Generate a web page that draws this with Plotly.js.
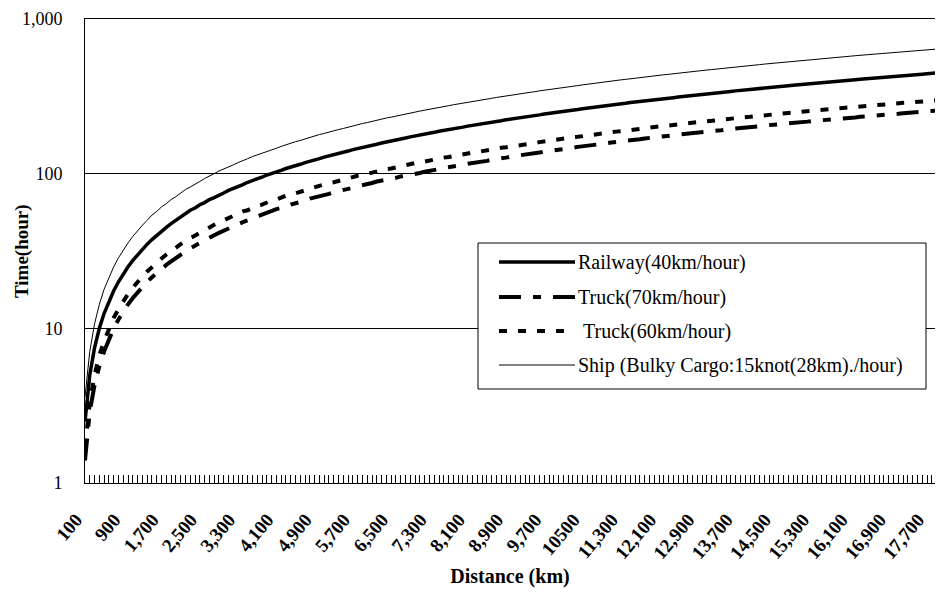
<!DOCTYPE html>
<html><head><meta charset="utf-8">
<script src="https://cdn.plot.ly/plotly-3.0.1.min.js"></script>
<style>html,body{margin:0;padding:0;background:#fff;}#chart{width:936px;height:595px;}</style>
</head><body><div id="chart"></div>
<script>
// Distance categories (km)
const distanceKm = [
100,200,300,400,500,600,700,800,900,1000,
1100,1200,1300,1400,1500,1600,1700,1800,1900,2000,
2100,2200,2300,2400,2500,2600,2700,2800,2900,3000,
3100,3200,3300,3400,3500,3600,3700,3800,3900,4000,
4100,4200,4300,4400,4500,4600,4700,4800,4900,5000,
5100,5200,5300,5400,5500,5600,5700,5800,5900,6000,
6100,6200,6300,6400,6500,6600,6700,6800,6900,7000,
7100,7200,7300,7400,7500,7600,7700,7800,7900,8000,
8100,8200,8300,8400,8500,8600,8700,8800,8900,9000,
9100,9200,9300,9400,9500,9600,9700,9800,9900,10000,
10100,10200,10300,10400,10500,10600,10700,10800,10900,11000,
11100,11200,11300,11400,11500,11600,11700,11800,11900,12000,
12100,12200,12300,12400,12500,12600,12700,12800,12900,13000,
13100,13200,13300,13400,13500,13600,13700,13800,13900,14000,
14100,14200,14300,14400,14500,14600,14700,14800,14900,15000,
15100,15200,15300,15400,15500,15600,15700,15800,15900,16000,
16100,16200,16300,16400,16500,16600,16700,16800,16900,17000,
17100,17200,17300,17400,17500,17600,17700,17800,17900
];

// Time (hours)
const railway = [
2.5,5,7.5,10,12.5,15,17.5,20,22.5,25,
27.5,30,32.5,35,37.5,40,42.5,45,47.5,50,
53,55,58,60,63,65,68,70,73,75,
78,80,83,85,88,90,93,95,98,100,
103,105,108,110,113,115,118,120,123,125,
128,130,133,135,138,140,143,145,148,150,
153,155,158,160,163,165,168,170,173,175,
178,180,183,185,188,190,193,195,198,200,
203,205,208,210,213,215,218,220,223,225,
228,230,233,235,238,240,243,245,248,250,
253,255,258,260,263,265,268,270,273,275,
278,280,283,285,288,290,293,295,298,300,
303,305,308,310,313,315,318,320,323,325,
328,330,333,335,338,340,343,345,348,350,
353,355,358,360,363,365,368,370,373,375,
378,380,383,385,388,390,393,395,398,400,
403,405,408,410,413,415,418,420,423,425,
428,430,433,435,438,440,443,445,448
];

const truck70 = [
1.4,2.9,4.3,5.7,7.1,8.6,10,
11.4,12.9,14.3,15.7,17.1,18.6,20,
21.4,22.9,24.3,25.7,27.1,28.6,30,
31.4,32.9,34.3,35.7,37.1,38.6,40,
41.4,42.9,44.3,45.7,47.1,48.6,50,
51,53,54,56,57,59,60,
61,63,64,66,67,69,70,
71,73,74,76,77,79,80,
81,83,84,86,87,89,90,
91,93,94,96,97,99,100,
101,103,104,106,107,109,110,
111,113,114,116,117,119,120,
121,123,124,126,127,129,130,
131,133,134,136,137,139,140,
141,143,144,146,147,149,150,
151,153,154,156,157,159,160,
161,163,164,166,167,169,170,
171,173,174,176,177,179,180,
181,183,184,186,187,189,190,
191,193,194,196,197,199,200,
201,203,204,206,207,209,210,
211,213,214,216,217,219,220,
221,223,224,226,227,229,230,
231,233,234,236,237,239,240,
241,243,244,246,247,249,250,
251,253,254,256
];

const truck60 = [
1.7,3.3,5, 6.7,8.3,10, 11.7,13.3,15, 16.7,18.3,20,
21.7,23.3,25, 26.7,28.3,30, 31.7,33.3,35, 36.7,38.3,40,
41.7,43.3,45, 46.7,48.3,50,
52,53,55, 57,58,60, 62,63,65, 67,68,70, 72,73,75,
77,78,80, 82,83,85, 87,88,90, 92,93,95, 97,98,100,
102,103,105, 107,108,110, 112,113,115, 117,118,120,
122,123,125, 127,128,130, 132,133,135, 137,138,140,
142,143,145, 147,148,150, 152,153,155, 157,158,160,
162,163,165, 167,168,170, 172,173,175, 177,178,180,
182,183,185, 187,188,190, 192,193,195, 197,198,200,
202,203,205, 207,208,210, 212,213,215, 217,218,220,
222,223,225, 227,228,230, 232,233,235, 237,238,240,
242,243,245, 247,248,250, 252,253,255, 257,258,260,
262,263,265, 267,268,270, 272,273,275, 277,278,280,
282,283,285, 287,288,290, 292,293,295, 297,298
];

const ship = [
3.6,7.1,10.7,14.3,17.9,21.4,25,
28.6,32.1,35.7,39.3,42.9,46.4,50,
54,57,61,64,68,71,75,
79,82,86,89,93,96,100,
104,107,111,114,118,121,125,
129,132,136,139,143,146,150,
154,157,161,164,168,171,175,
179,182,186,189,193,196,200,
204,207,211,214,218,221,225,
229,232,236,239,243,246,250,
254,257,261,264,268,271,275,
279,282,286,289,293,296,300,
304,307,311,314,318,321,325,
329,332,336,339,343,346,350,
354,357,361,364,368,371,375,
379,382,386,389,393,396,400,
404,407,411,414,418,421,425,
429,432,436,439,443,446,450,
454,457,461,464,468,471,475,
479,482,486,489,493,496,500,
504,507,511,514,518,521,525,
529,532,536,539,543,546,550,
554,557,561,564,568,571,575,
579,582,586,589,593,596,600,
604,607,611,614,618,621,625,
629,632,636,639
];

const xTickLabels = ['100','900','1,700','2,500','3,300','4,100','4,900','5,700','6,500','7,300',
  '8,100','8,900','9,700','10500','11,300','12,100','12,900','13,700','14,500','15,300',
  '16,100','16,900','17,700'];
const xLabelEvery = 8;
const yTickVals = [1, 10, 100, 1000];
const yTickText = ['1', '10', '100', '1,000'];
const seriesNames = ['Railway(40km/hour)', 'Truck(70km/hour)', 'Truck(60km/hour)', 'Ship (Bulky Cargo:15knot(28km)./hour)'];
const xTitle = 'Distance (km)';
const yTitle = 'Time(hour)';

// ---- styling / layout ----
const FONT = '"Liberation Serif", "Times New Roman", Times, serif';
const styles = [
  {width: 3.5, dash: 'solid'},
  {width: 4, dash: '22px,12px,8px,12px'},
  {width: 4, dash: '8px,11px'},
  {width: 1, dash: 'solid'}
];
const seriesData = [railway, truck70, truck60, ship];

const L = 85, R = 935, T = 19, B = 483, W = 936, H = 595;
const pxX = x => (x - L) / (R - L);
const pxY = y => (B - y) / (B - T);

const traces = seriesData.map((vals, i) => ({
  type: 'scatter', mode: 'lines', x: distanceKm, y: vals, name: seriesNames[i],
  line: {color: '#000', width: styles[i].width, dash: styles[i].dash},
  showlegend: false, hoverinfo: 'skip'
}));

const tickText = distanceKm.map((d, i) => (i % xLabelEvery === 0 && xTickLabels[i / xLabelEvery] !== undefined) ? xTickLabels[i / xLabelEvery] : '');

// custom legend (box + samples + labels)
const legBox = {x0: 478, x1: 926, y0: 243, y1: 389};
const legRows = [262, 297, 331, 365];
const legTextX = [576, 576, 581, 576];
const shapes = [{
  type: 'rect', xref: 'paper', yref: 'paper', layer: 'above',
  x0: pxX(legBox.x0), x1: pxX(legBox.x1), y0: pxY(legBox.y1), y1: pxY(legBox.y0),
  line: {color: '#000', width: 1}, fillcolor: '#fff'
}];
const annotations = [];
seriesNames.forEach((n, i) => {
  shapes.push({
    type: 'line', xref: 'paper', yref: 'paper', layer: 'above',
    x0: pxX(499), x1: pxX(575), y0: pxY(legRows[i]), y1: pxY(legRows[i]),
    line: {color: '#000', width: styles[i].width, dash: styles[i].dash}
  });
  annotations.push({
    xref: 'paper', yref: 'paper', x: pxX(legTextX[i]), y: pxY(legRows[i]),
    xanchor: 'left', yanchor: 'middle', showarrow: false, text: n,
    font: {family: FONT, size: 20, color: '#000'}
  });
});
annotations.push({
  xref: 'paper', yref: 'paper', x: pxX(22), y: pxY(251), xanchor: 'center', yanchor: 'middle',
  showarrow: false, textangle: -90, text: yTitle,
  font: {family: FONT, size: 19, color: '#000', weight: 'bold'}
});

const layout = {
  width: W, height: H,
  margin: {l: L, r: W - R, t: T, b: H - B, pad: 0},
  paper_bgcolor: '#fff', plot_bgcolor: '#fff',
  font: {family: FONT, color: '#000'},
  showlegend: false,
  xaxis: {
    type: 'category', range: [0, 177.67], autorange: false,
    tickmode: 'array', tickvals: distanceKm, ticktext: tickText,
    tickangle: -50, ticks: 'inside', ticklen: 8, tickwidth: 1, tickcolor: '#000',
    ticklabelstandoff: 17, ticklabelshift: -9,
    showline: true, linecolor: '#000', linewidth: 1, mirror: true,
    showgrid: false, zeroline: false,
    tickfont: {family: FONT, size: 19, color: '#000', weight: 'bold'},
    title: {text: xTitle, font: {family: FONT, size: 20, color: '#000', weight: 'bold'}, standoff: 6}
  },
  yaxis: {
    type: 'log', range: [0, 3], autorange: false,
    tickmode: 'array', tickvals: yTickVals, ticktext: yTickText,
    ticks: 'inside', ticklen: 5, tickwidth: 1, tickcolor: '#000',
    ticklabelstandoff: 18,
    showline: true, linecolor: '#000', linewidth: 1,
    showgrid: true, gridcolor: '#000', gridwidth: 1, zeroline: false,
    tickfont: {family: FONT, size: 18, color: '#000'}
  },
  shapes: shapes,
  annotations: annotations
};

Plotly.newPlot('chart', traces, layout, {staticPlot: true, displayModeBar: false});
</script>
</body></html>
